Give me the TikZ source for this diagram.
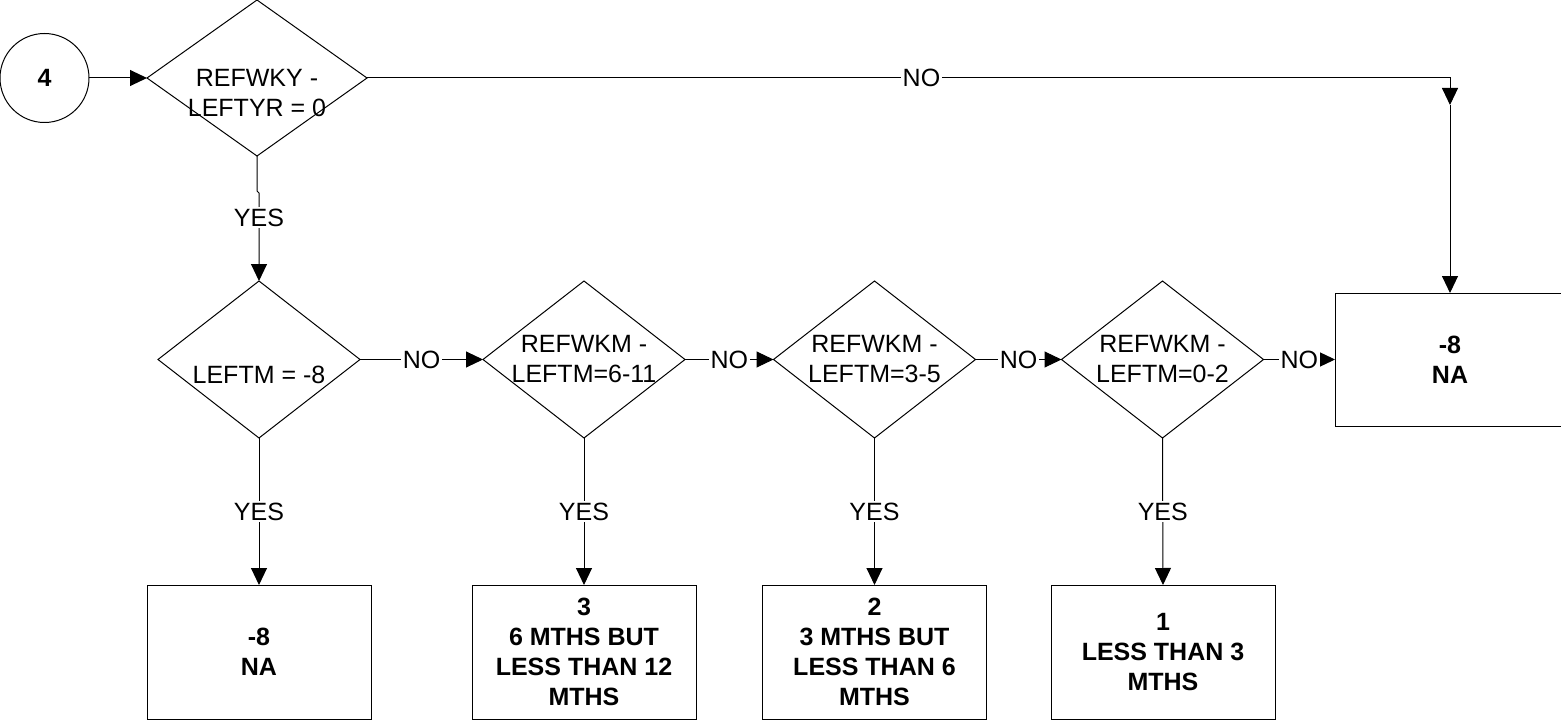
\documentclass[tikz,border=0pt]{standalone}
\usepackage{fontspec}
\setmainfont{Liberation Sans}
\usetikzlibrary{arrows.meta}
\begin{document}
\begin{tikzpicture}[x=1pt,y=-1pt,line width=1pt,
  every node/.style={font=\fontsize{25}{30}\selectfont},
  diabox/.style={rectangle,inner sep=0pt,outer sep=0pt,minimum width=#1,minimum height=157pt},
  dtext/.style={align=center,inner sep=0pt},
  resbox/.style={draw,rectangle,inner sep=0pt,outer sep=0pt,minimum width=224pt,minimum height=134pt,align=center,font=\fontsize{25}{30}\selectfont\bfseries},
  lbl/.style={fill=white,inner sep=1.5pt},
  arr/.style={-{Triangle[length=17pt,width=16pt]}}]
\useasboundingbox (0,0) rectangle (1561,722);
\clip (0,0) rectangle (1561,722);
% start circle
\node[draw,circle,minimum size=89pt,inner sep=0pt,outer sep=0pt,font=\fontsize{25}{30}\selectfont\bfseries] (c4) at (44.5,78) {4};
% decision diamonds
\node[diabox=220pt,minimum height=156pt] (d1) at (257,78) {};
\node[diabox=202pt] (d2) at (259,359.5) {};
\node[diabox=202pt] (d3) at (584,359.5) {};
\node[diabox=202pt] (d4) at (874.5,359.5) {};
\node[diabox=202pt] (d5) at (1162.5,359.5) {};
\foreach \d in {d1,d2,d3,d4,d5}
  \draw (\d.north) -- (\d.east) -- (\d.south) -- (\d.west) -- cycle;
\node[dtext] (t1) at ([yshift=-15pt]d1.center) {REFWKY -\\LEFTYR = 0};
\node[dtext] (t2) at ([yshift=-15pt]d2.center) {LEFTM = -8};
\node[dtext] (t3) at (d3.center) {REFWKM -\\LEFTM=6-11};
\node[dtext] (t4) at (d4.center) {REFWKM -\\LEFTM=3-5};
\node[dtext] (t5) at (d5.center) {REFWKM -\\LEFTM=0-2};
% result boxes
\node[resbox] (b1) at (259,652) {-8\\NA};
\node[resbox] (b2) at (584,652) {3\\6 MTHS BUT\\LESS THAN 12\\MTHS};
\node[resbox] (b3) at (874.5,652) {2\\3 MTHS BUT\\LESS THAN 6\\MTHS};
\node[resbox] (b4) at (1163,652) {1\\LESS THAN 3\\MTHS};
\node[resbox,minimum width=230pt,minimum height=133pt] (b5) at (1450,359.5) {-8\\NA};
% helper coordinates
\coordinate (tc) at (1450,78);
\coordinate (tm) at (1450,105);
\coordinate (j1) at (257,191);
\coordinate (j2) at (259,193);
% connectors
\draw[arr] (c4.east) -- (d1.west);
\draw[arr] (d1.east) -- node[lbl,pos=0.512]{NO} (tc) -- (tm);
\draw[arr] (tm) -- (b5.north);
\draw[arr] (d1.south) -- (j1) -- (j2) -- node[lbl,pos=0.28]{YES} (d2.north);
\draw[arr] (d2.east) -- node[lbl]{NO} (d3.west);
\draw[arr] (d3.east) -- node[lbl]{NO} (d4.west);
\draw[arr] (d4.east) -- node[lbl]{NO} (d5.west);
\draw[arr] (d5.east) -- node[lbl]{NO} (b5.west);
\draw[arr] (d2.south) -- node[lbl]{YES} (b1.north);
\draw[arr] (d3.south) -- node[lbl]{YES} (b2.north);
\draw[arr] (d4.south) -- node[lbl]{YES} (b3.north);
\draw[arr] (d5.south) -- node[lbl]{YES} (b4.north);
\end{tikzpicture}
\end{document}
